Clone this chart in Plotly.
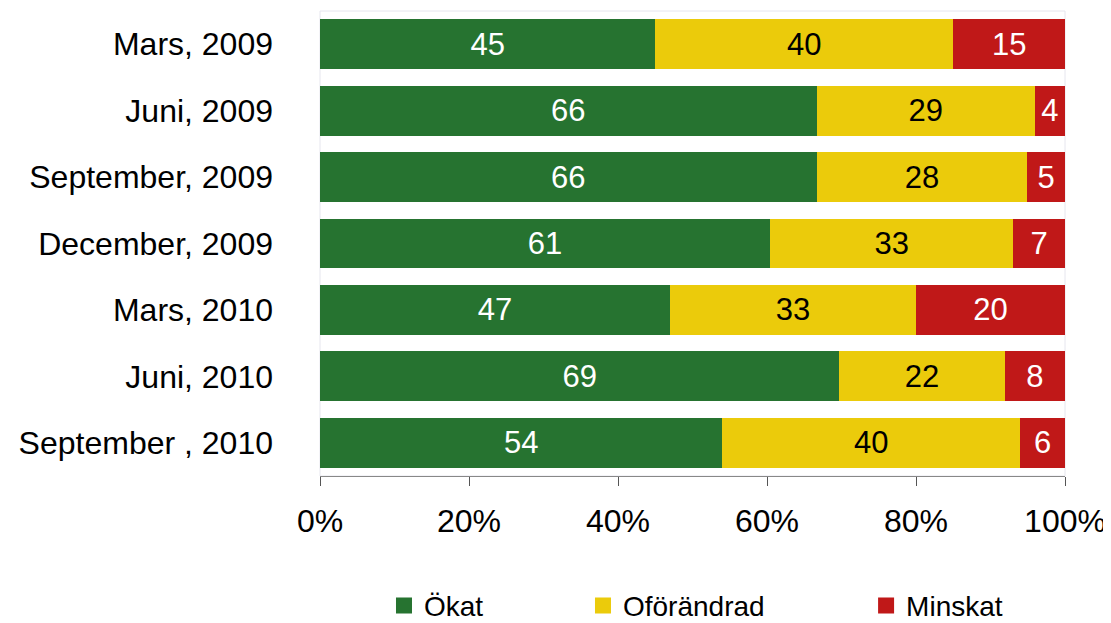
import plotly.graph_objects as go

categories = ["Mars, 2009", "Juni, 2009", "September, 2009", "December, 2009",
              "Mars, 2010", "Juni, 2010", "September , 2010"]
okat = [45, 66, 66, 61, 47, 69, 54]
oforandrad = [40, 29, 28, 33, 33, 22, 40]
minskat = [15, 4, 5, 7, 20, 8, 6]
tick_vals = [0, 20, 40, 60, 80, 100]
tick_text = ["0%", "20%", "40%", "60%", "80%", "100%"]

FONT = "Liberation Sans, Arial"
series = [
    ("Ökat", okat, "#267330", "white", "legend", 0.0859),
    ("Oförändrad", oforandrad, "#EBCB0B", "black", "legend2", 0.353),
    ("Minskat", minskat, "#C01818", "white", "legend3", 0.733),
]

fig = go.Figure()
for name, vals, color, tcolor, leg, lx in series:
    fig.add_trace(go.Bar(
        y=categories, x=vals, name=name, orientation="h", showlegend=False,
        marker=dict(color=color, line=dict(width=0)),
        text=vals, texttemplate="%{text}", textposition="inside",
        insidetextanchor="middle", constraintext="none",
        textfont=dict(color=tcolor, size=31, family=FONT),
    ))
for name, vals, color, tcolor, leg, lx in series:
    fig.add_trace(go.Scatter(
        x=[None], y=[None], mode="markers", name=name, legend=leg,
        marker=dict(symbol="square", size=20, color=color),
    ))

legend_common = dict(orientation="h", xanchor="left", y=-0.279, yanchor="middle",
                     font=dict(size=28, family=FONT), bgcolor="rgba(0,0,0,0)",
                     itemwidth=30)
fig.update_layout(
    barmode="stack", barnorm="percent", bargap=0.25,
    width=1111, height=640,
    margin=dict(l=312, r=54, t=3, b=172),
    paper_bgcolor="white", plot_bgcolor="white",
    font=dict(family=FONT, size=32, color="black"),
    legend=dict(x=series[0][5], **legend_common),
    legend2=dict(x=series[1][5], **legend_common),
    legend3=dict(x=series[2][5], **legend_common),
    xaxis=dict(range=[0, 100], tickvals=tick_vals, ticktext=tick_text,
               showgrid=False, zeroline=False, showline=True, linecolor="#888888",
               ticks="outside", ticklen=9, tickcolor="#555555",
               tickfont=dict(size=32), ticklabelstandoff=8, fixedrange=True),
    yaxis=dict(autorange="reversed", showgrid=False, showline=False, ticks="",
               tickfont=dict(size=32), ticklabelstandoff=46),
    shapes=[dict(type="rect", xref="paper", yref="paper", x0=0, x1=1, y0=0, y1=1,
                 line=dict(color="#e6e6ee", width=1), layer="below")],
)
fig.write_html("out.html")
